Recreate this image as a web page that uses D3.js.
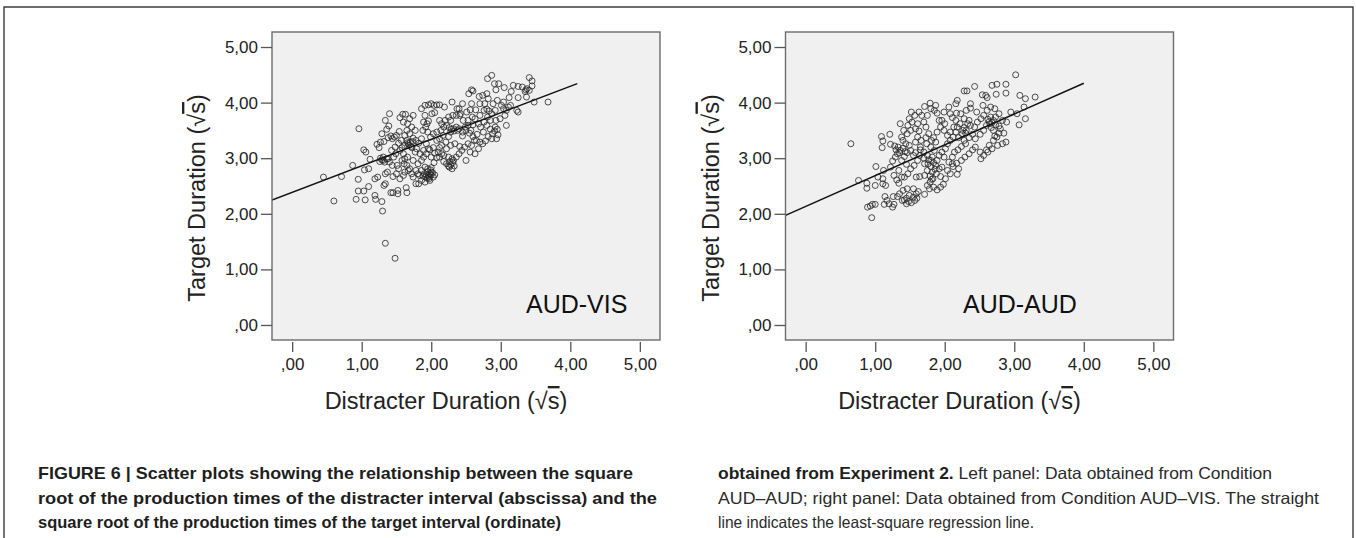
<!DOCTYPE html>
<html>
<head>
<meta charset="utf-8">
<script src="https://cdn.jsdelivr.net/npm/d3@7"></script>
<style>
  html, body { margin: 0; padding: 0; background: #ffffff; }
  svg { display: block; }
</style>
</head>
<body>
<svg id="fig" width="1356" height="538"></svg>
<script>
// ---- data -------------------------------------------------------------
const tickValues = [0, 1, 2, 3, 4, 5];
const tickLabels = [",00", "1,00", "2,00", "3,00", "4,00", "5,00"];
const panelNames = ["AUD-VIS", "AUD-AUD"];
const xTitle = "Distracter Duration (";
const yTitle = "Target Duration (";

// [distracter, target] in sqrt(s)
const audVis = [
  [0.45,2.66],[0.60,2.23],[0.71,2.67],[0.87,2.87],[0.96,3.53],[0.95,2.62],[0.92,2.26],[0.95,2.41],
  [1.03,2.41],[1.05,2.25],[1.03,3.15],[1.06,3.11],[1.04,2.79],[1.10,2.81],[1.10,2.49],[1.12,2.98],
  [1.19,2.33],[1.20,2.26],[1.19,2.63],[1.23,2.66],[1.29,2.22],[1.30,2.05],[1.34,1.47],[1.48,1.20],
  [1.42,2.38],[1.45,2.38],[1.52,2.42],[1.52,2.36],[1.64,2.47],[1.65,2.38],[1.32,2.51],[1.34,2.54],
  [1.34,2.72],[1.37,2.75],[1.36,2.99],[1.38,2.99],[1.31,2.96],[1.26,2.94],[1.25,3.19],[1.22,3.25],
  [1.27,3.29],[1.32,3.30],[1.29,3.44],[1.36,3.52],[1.39,3.58],[1.40,3.80],[1.34,3.68],[1.38,3.37],
  [1.42,3.40],[1.44,3.35],[1.47,3.38],[1.50,3.41],[1.54,3.48],[1.49,3.08],[1.46,3.02],[1.51,2.87],
  [1.53,2.81],[1.55,2.63],[1.60,2.69],[1.62,2.75],[1.58,2.96],[1.62,2.99],[1.58,3.19],[1.62,3.23],
  [1.67,3.26],[1.70,3.29],[1.55,3.73],[1.59,3.79],[1.63,3.79],[1.69,3.71],[1.74,3.77],[1.60,3.65],
  [1.66,3.62],[1.72,3.56],[1.77,3.50],[1.74,3.36],[1.78,3.32],[1.82,3.27],[1.86,3.35],[1.88,3.50],
  [1.92,3.56],[1.94,3.62],[1.89,3.65],[1.96,3.67],[1.91,3.77],[1.86,3.89],[1.91,3.95],[1.96,3.96],
  [2.00,3.98],[2.04,3.95],[2.08,3.96],[2.12,3.96],[2.01,3.80],[2.05,3.82],[2.12,3.68],[2.15,3.62],
  [2.19,3.92],[2.30,4.01],[2.37,3.89],[2.40,3.89],[2.45,3.98],[2.54,4.16],[2.58,4.23],[2.60,4.21],
  [2.69,4.11],[2.74,4.13],[2.80,4.16],[2.81,4.43],[2.87,4.49],[2.91,4.34],[2.93,4.23],[2.97,4.34],
  [3.05,4.27],[3.18,4.31],[3.25,4.29],[3.31,4.28],[3.36,4.23],[3.41,4.45],[3.45,4.39],[3.41,4.22],
  [3.48,4.01],[3.68,4.01],[3.37,4.10],[3.25,4.09],[3.12,4.09],[3.04,4.01],[3.01,3.95],[3.08,3.86],
  [3.06,3.77],[2.99,3.71],[2.93,3.68],[2.92,3.56],[2.95,3.52],[2.94,3.35],[2.87,3.35],[2.82,3.39],
  [2.78,3.31],[2.74,3.26],[2.68,3.17],[2.63,3.08],[2.56,3.11],[2.50,2.96],[2.40,3.08],[2.36,3.02],
  [2.32,2.96],[2.30,2.81],[2.26,2.84],[2.22,2.90],[2.18,2.94],[2.12,3.02],[2.08,3.01],[2.04,2.92],
  [2.00,2.83],[1.98,2.72],[1.96,2.69],[1.92,2.66],[1.88,2.68],[1.83,2.69],[1.78,2.54],[1.74,2.66],
  [1.81,2.90],[1.86,2.96],[1.89,3.02],[1.93,3.08],[1.98,3.15],[2.03,3.19],[2.12,3.19],[2.15,3.23],
  [2.21,3.29],[2.25,3.39],[2.28,3.47],[2.32,3.53],[2.36,3.56],[2.40,3.53],[2.45,3.47],[2.49,3.56],
  [2.53,3.59],[2.57,3.50],[2.60,3.39],[2.65,3.32],[2.70,3.29],[2.75,3.47],[2.80,3.59],[2.85,3.68],
  [2.83,3.85],[2.80,3.88],[2.76,3.86],[2.70,3.77],[2.63,3.71],[2.59,3.74],[2.53,3.68],[2.46,3.68],
  [2.41,3.77],[2.31,3.77],[2.25,3.74],[2.20,3.68],[2.14,3.50],[2.08,3.47],[2.03,3.44],[1.99,3.38],
  [1.95,3.47],[2.08,3.32],[2.12,3.35],[2.17,3.41],[2.22,3.17],[2.28,3.23],[2.34,3.26],[2.41,3.21],
  [2.44,3.14],[2.48,3.20],[2.53,3.26],[2.58,3.23],[2.62,3.32],[2.66,3.43],[2.71,3.56],[2.76,3.65],
  [2.81,3.74],[2.87,3.80],[2.92,3.86],[3.04,3.89],[3.11,3.92],[3.14,3.95],[3.23,3.86],[3.25,3.83],
  [3.08,3.59],[2.95,4.04],[2.89,3.98],[2.82,4.07],[2.77,3.98],[2.70,3.98],[2.64,3.87],[2.58,3.98],
  [2.56,3.87],[2.51,3.83],[2.42,3.80],[2.36,3.77],[2.28,3.68],[2.22,3.59],[2.18,3.56],[1.93,3.26],
  [1.96,3.17],[2.00,3.02],[2.05,3.09],[2.10,3.11],[2.15,3.08],[2.18,3.05],[2.25,3.02],[1.65,3.50],
  [1.69,3.44],[1.65,3.32],[1.72,3.19],[1.77,3.11],[1.84,3.08],[1.89,3.14],[1.79,3.17],[1.74,2.96],
  [1.69,2.81],[1.65,2.87],[1.67,2.78],[1.72,2.72],[1.78,2.78],[1.81,2.72],[1.86,2.78],[1.91,2.84],
  [1.95,2.81],[2.00,2.75],[2.03,2.66],[1.97,2.63],[1.91,2.57],[1.86,2.60],[1.82,2.54],[1.45,2.67],
  [1.50,2.72],[1.44,2.87],[1.40,2.93],[1.43,3.14],[1.48,3.20],[1.53,3.27],[1.57,3.32],[1.62,3.41],
  [1.55,3.14],[1.60,3.08],[1.66,3.02],[1.61,2.90],
  [1.93,2.70],[1.97,2.66],[2.00,2.70],[2.02,2.74],[1.95,2.76],[1.99,2.79],[1.90,2.72],[2.05,2.70],
  [1.94,2.64],[1.98,2.60],[2.28,2.88],[2.31,2.92],[2.27,2.94],[2.33,2.86],[2.30,2.99],[2.25,2.86],
  [1.29,2.97],[1.33,2.93],[1.27,3.00],[1.31,3.02],[1.68,3.23],[1.71,3.21],[1.66,3.28],[1.73,3.30],
  [2.29,3.52],[2.33,3.49],[2.38,3.50],[2.26,3.55],[2.88,3.44],[2.91,3.49],[2.85,3.52],[2.96,3.42],
  [3.38,4.25],[3.35,4.20],[3.45,4.30],[3.15,4.20],[2.55,3.45],[2.60,3.60],[2.45,3.40],[2.50,3.50],
  [2.68,3.62]
];

const audAud = [
  [0.65,3.26],[0.76,2.60],[0.88,2.55],[0.88,2.46],[1.01,2.85],[1.00,2.51],[1.04,2.66],[1.11,2.63],
  [1.12,2.78],[1.09,3.39],[1.11,3.31],[1.10,3.19],[1.21,3.43],[1.22,3.25],[0.89,2.12],[0.93,2.14],
  [0.96,2.17],[1.00,2.17],[0.95,1.93],[1.11,2.54],[1.15,2.51],[1.14,2.31],[1.17,2.24],[1.20,2.18],
  [1.13,2.17],[1.25,2.12],[1.27,2.17],[1.26,2.31],[1.32,2.31],[1.35,2.36],[1.39,2.24],[1.45,2.28],
  [1.49,2.33],[1.57,2.24],[1.59,2.36],[1.55,2.45],[1.46,2.45],[1.40,2.42],[1.34,2.55],[1.31,2.61],
  [1.27,2.69],[1.22,2.84],[1.25,2.95],[1.29,3.02],[1.36,3.14],[1.32,3.08],[1.38,2.96],[1.42,3.03],
  [1.46,3.10],[1.51,3.14],[1.49,3.23],[1.44,3.26],[1.40,3.32],[1.38,3.38],[1.46,3.44],[1.51,3.50],
  [1.58,3.53],[1.63,3.49],[1.61,3.38],[1.58,3.29],[1.65,3.20],[1.66,3.32],[1.73,3.37],[1.74,3.26],
  [1.70,3.11],[1.64,3.05],[1.61,2.96],[1.56,2.87],[1.51,2.81],[1.47,2.72],[1.42,2.66],[1.38,2.66],
  [1.34,2.78],[1.45,2.89],[1.59,2.66],[1.64,2.67],[1.71,2.69],[1.75,2.78],[1.76,2.90],[1.80,2.96],
  [1.82,3.02],[1.85,3.14],[1.87,3.29],[1.84,3.37],[1.80,3.20],[1.75,3.05],[1.71,2.90],[1.79,2.57],
  [1.75,2.51],[1.78,2.45],[1.71,2.35],[1.83,2.63],[1.88,2.72],[1.94,2.67],[1.92,2.81],[1.87,2.87],
  [1.89,2.96],[1.92,3.05],[1.96,3.11],[2.01,3.17],[2.04,3.26],[2.08,3.32],[2.12,3.38],[2.16,3.47],
  [2.18,3.56],[2.22,3.62],[2.16,3.68],[2.11,3.73],[2.06,3.92],[2.16,3.98],[2.17,3.81],[2.23,3.80],
  [2.28,3.71],[2.35,3.68],[2.37,3.59],[2.31,3.50],[2.25,3.44],[2.20,3.37],[2.28,3.32],[2.35,3.37],
  [2.40,3.43],[2.44,3.35],[2.51,3.43],[2.56,3.50],[2.60,3.59],[2.64,3.66],[2.68,3.64],[2.66,3.74],
  [2.56,3.77],[2.52,3.71],[2.47,3.65],[2.43,3.56],[2.30,3.26],[2.24,3.21],[2.19,3.15],[2.14,3.11],
  [2.11,3.02],[2.06,2.93],[2.12,2.85],[2.17,2.91],[2.20,2.81],[2.24,2.96],[2.29,3.02],[2.35,3.08],
  [2.40,3.15],[2.44,3.20],[2.51,3.11],[2.52,2.99],[2.56,3.05],[2.60,3.15],[2.64,3.23],[2.70,3.32],
  [2.75,3.38],[2.78,3.45],[2.80,3.53],[2.85,3.45],[2.88,3.29],[2.83,3.26],[2.76,3.23],[2.68,3.17],
  [2.62,3.11],[2.18,2.71],[2.11,2.90],[1.99,3.02],[1.96,2.84],[2.04,2.78],[2.08,2.72],[2.01,2.63],
  [1.98,2.53],[1.94,2.48],[1.89,2.43],[1.84,2.48],[1.81,3.32],[1.77,3.44],[1.73,3.56],[1.70,3.65],
  [1.67,3.77],[1.63,3.83],[1.57,3.77],[1.52,3.83],[1.49,3.71],[1.47,3.59],[1.41,3.50],[1.36,3.62],
  [1.53,3.65],[1.61,3.62],[1.75,3.77],[1.80,3.89],[1.85,3.86],[1.89,3.81],[1.92,3.68],[1.96,3.68],
  [2.00,3.62],[1.94,3.56],[1.89,3.47],[1.99,3.50],[2.04,3.41],[2.08,3.47],[2.13,3.56],[1.99,3.83],
  [2.18,4.04],[2.28,4.21],[2.32,4.21],[2.37,3.98],[2.43,4.29],[2.54,4.14],[2.59,4.13],[2.61,4.09],
  [2.68,4.31],[2.75,4.33],[2.74,4.15],[2.88,4.33],[2.88,4.17],[2.55,3.95],[2.61,3.86],[2.66,3.92],
  [2.72,3.89],[2.78,3.80],[2.73,3.74],[2.83,3.68],[2.89,3.65],[2.95,3.83],[3.04,3.80],[3.14,3.92],
  [3.08,4.13],[3.16,4.07],[3.30,4.10],[3.02,4.50],[3.07,3.60],[3.16,3.71],[2.37,3.90],[2.46,3.83],
  [2.31,3.86],[2.08,3.80],[1.71,3.93],[1.79,3.99],[1.87,3.95],
  [1.30,3.15],[1.33,3.20],[1.35,3.10],[1.40,3.18],[1.43,3.12],[1.28,3.22],[1.52,2.20],[1.55,2.30],
  [1.48,2.22],[1.60,2.28],[1.62,2.40],[1.45,2.18],[1.42,2.25],[1.80,2.85],[1.82,2.75],[1.84,2.92],
  [1.79,2.68],[1.86,2.80],[1.81,2.62],[1.77,2.97],[2.30,3.45],[2.28,3.55],[2.33,3.62],[2.26,3.50],
  [2.65,3.62],[2.70,3.68],[2.67,3.55],[2.73,3.60],[2.62,3.70],[2.78,3.58],[2.70,3.50],[2.72,3.40],
  [1.55,3.05],[1.58,3.10],[1.65,3.15],[1.70,3.00]
];

// least-squares fit per panel: target = intercept + slope * distracter
const fitIntercept = [2.387, 2.133];
const fitSlope = [0.4765, 0.554];
const fitXEnd = [4.10, 4.00];

const captionLeft = [
  "FIGURE 6 | Scatter plots showing the relationship between the square",
  "root of the production times of the distracter interval (abscissa) and the",
  "square root of the production times of the target interval (ordinate)"
];
const captionRightBold = "obtained from Experiment 2.";
const captionRight = [
  " Left panel: Data obtained from Condition",
  "AUD\u2013AUD; right panel: Data obtained from Condition AUD\u2013VIS. The straight",
  "line indicates the least-square regression line."
];

// ---- layout -------------------------------------------------------------
const svg = d3.select("#fig");
const axisFont = "'Liberation Sans', Arial, Helvetica, sans-serif";
const capFont = "'Liberation Sans', Arial, Helvetica, sans-serif";

// outer figure rule
svg.append("path")
  .attr("d", "M4,538V7H1353V538")
  .attr("fill", "none").attr("stroke", "#3c3c3c").attr("stroke-width", 1.4);

const panelLeft = [272, 785.5];
const panelTop = 32, panelW = 388, panelH = 308;
const labelX = [526, 963];
const datasets = [audVis, audAud];

const y = d3.scaleLinear().domain([-0.27, 5.27]).range([panelTop + panelH, panelTop]);

datasets.forEach((data, i) => {
  const x0 = panelLeft[i];
  const x = d3.scaleLinear().domain([-0.29, 5.29]).range([x0, x0 + panelW]);
  const g = svg.append("g");

  g.append("clipPath").attr("id", "clip" + i)
    .append("rect").attr("x", x0).attr("y", panelTop).attr("width", panelW).attr("height", panelH);

  g.append("rect")
    .attr("x", x0).attr("y", panelTop).attr("width", panelW).attr("height", panelH)
    .attr("fill", "#f0f0f0");

  // scatter markers
  g.append("g").attr("clip-path", `url(#clip${i})`)
    .selectAll("circle").data(data).join("circle")
    .attr("cx", d => x(d[0])).attr("cy", d => y(d[1]))
    .attr("r", 3.0)
    .attr("fill", "none").attr("stroke", "#262626")
    .attr("stroke-opacity", 0.8).attr("stroke-width", 1.0);

  // regression line
  const xs = [x.domain()[0], fitXEnd[i]];
  g.append("line").attr("clip-path", `url(#clip${i})`)
    .attr("x1", x(xs[0])).attr("y1", y(fitIntercept[i] + fitSlope[i] * xs[0]))
    .attr("x2", x(xs[1])).attr("y2", y(fitIntercept[i] + fitSlope[i] * xs[1]))
    .attr("stroke", "#111").attr("stroke-width", 1.5);

  g.append("rect")
    .attr("x", x0).attr("y", panelTop).attr("width", panelW).attr("height", panelH)
    .attr("fill", "none").attr("stroke", "#6c6c6c").attr("stroke-width", 1.4);

  // x axis (ticks only, detached from the frame)
  const xa = g.append("g").attr("transform", `translate(0,${panelTop + panelH + 2})`)
    .call(d3.axisBottom(x).tickValues(tickValues)
      .tickFormat((d, k) => tickLabels[k]).tickSize(10).tickPadding(6));
  xa.select(".domain").remove();
  xa.selectAll("line").attr("stroke", "#555").attr("stroke-width", 1.3);
  xa.selectAll("text").attr("font-family", axisFont).attr("font-size", 17).attr("fill", "#222");

  // y axis
  const ya = g.append("g").attr("transform", `translate(${x0},0)`)
    .call(d3.axisLeft(y).tickValues(tickValues)
      .tickFormat((d, k) => tickLabels[k]).tickSize(11).tickPadding(3));
  ya.select(".domain").remove();
  ya.selectAll("line").attr("stroke", "#555").attr("stroke-width", 1.3);
  ya.selectAll("text").attr("font-family", axisFont).attr("font-size", 17).attr("fill", "#222");

  // axis titles
  const xt = g.append("text")
    .attr("x", x0 + 174).attr("y", 409)
    .attr("text-anchor", "middle")
    .attr("font-family", axisFont).attr("font-size", 23.5).attr("fill", "#222");
  xt.append("tspan").text(xTitle + "\u221A");
  xt.append("tspan").attr("text-decoration", "overline").text("s");
  xt.append("tspan").text(")");

  const yt = g.append("text")
    .attr("transform", `translate(${x0 - 67},198) rotate(-90)`)
    .attr("text-anchor", "middle")
    .attr("font-family", axisFont).attr("font-size", 23.5).attr("fill", "#222");
  yt.append("tspan").text(yTitle + "\u221A");
  yt.append("tspan").attr("text-decoration", "overline").text("s");
  yt.append("tspan").text(")");

  // condition label
  g.append("text")
    .attr("x", labelX[i]).attr("y", 313)
    .attr("font-family", axisFont).attr("font-size", 25).attr("fill", "#111")
    .text(panelNames[i]);
});

// ---- caption -------------------------------------------------------------
const capBase = [479, 503.5, 528];
const leftEnds = [633, 657, 561];
const rightEnds = [1272, 1319, 1034];

captionLeft.forEach((t, k) => {
  svg.append("text")
    .attr("x", 38).attr("y", capBase[k])
    .attr("font-family", capFont).attr("font-size", 16.5)
    .attr("font-weight", "bold").attr("fill", "#1e1e1e")
    .attr("textLength", leftEnds[k] - 38).attr("lengthAdjust", "spacingAndGlyphs")
    .text(t);
});

captionRight.forEach((t, k) => {
  const tx = svg.append("text")
    .attr("x", 718).attr("y", capBase[k])
    .attr("font-family", capFont).attr("font-size", 16.5).attr("fill", "#2a2a2a")
    .attr("textLength", rightEnds[k] - 718).attr("lengthAdjust", "spacingAndGlyphs");
  if (k === 0) {
    tx.append("tspan").attr("font-weight", "bold").attr("fill", "#1e1e1e").text(captionRightBold);
  }
  tx.append("tspan").text(t);
});
</script>
</body>
</html>
